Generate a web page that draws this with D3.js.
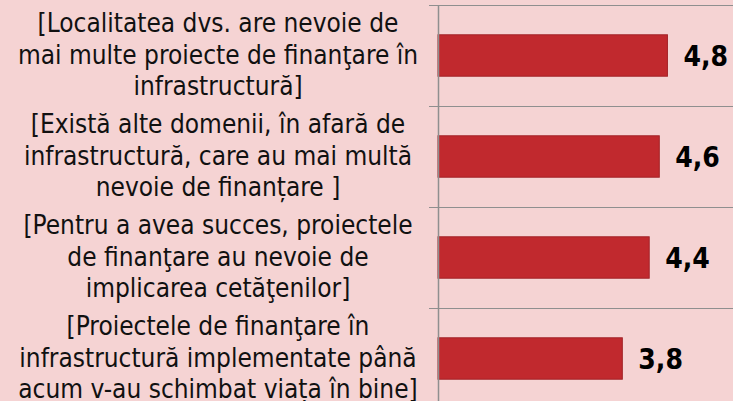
<!DOCTYPE html>
<html>
<head>
<meta charset="utf-8">
<script src="https://cdn.jsdelivr.net/npm/d3@7"></script>
<style>
  html, body { margin: 0; padding: 0; background: #f5d3d3; }
  svg { display: block; }
</style>
</head>
<body>
<svg width="733" height="401"></svg>
<script>
// categories (already wrapped the way the original shows them)
const categories = ["q1", "q2", "q3", "q4"];
const labelLines = [
    ["[Localitatea dvs. are nevoie de", "mai multe proiecte de finanţare în", "infrastructură]"],
    ["[Există alte domenii, în afară de", "infrastructură, care au mai multă", "nevoie de finanțare ]"],
    ["[Pentru a avea succes, proiectele", "de finanţare au nevoie de", "implicarea cetăţenilor]"],
    ["[Proiectele de finanţare în", "infrastructură implementate până", "acum v-au schimbat viața în bine]"]
];
const values = [4.78, 4.61, 4.40, 3.84];

const svg = d3.select("svg"),
    width = 733,
    height = 401;

const axisX = 438,
    topY = 5;

const y = d3.scaleBand()
    .domain(categories)
    .range([topY, topY + 404])
    .paddingInner(0.59)
    .paddingOuter(0.295);

const x = d3.scaleLinear()
    .domain([0, 6])
    .range([axisX, axisX + 288]);

const fmt = v => d3.format(".1f")(v).replace(".", ",");

// category separators
const step = y.step();
svg.append("g")
    .selectAll("line")
    .data(d3.range(categories.length + 1))
    .enter()
    .append("line")
    .attr("x1", axisX - 9)
    .attr("x2", width)
    .attr("y1", i => Math.round(topY + i * step) + 0.5)
    .attr("y2", i => Math.round(topY + i * step) + 0.5)
    .attr("stroke", "#8f8f8f")
    .attr("stroke-width", 1.2);

// bars
svg.append("g")
    .selectAll("rect")
    .data(values)
    .enter()
    .append("rect")
    .attr("x", x(0))
    .attr("y", (d, i) => y(categories[i]))
    .attr("width", d => x(d) - x(0))
    .attr("height", y.bandwidth())
    .attr("fill", "#c1292e")
    .attr("stroke", "#a32328")
    .attr("stroke-width", 1);

// vertical axis line
svg.append("line")
    .attr("x1", axisX + 0.5)
    .attr("x2", axisX + 0.5)
    .attr("y1", topY)
    .attr("y2", height)
    .attr("stroke", "#8f8f8f")
    .attr("stroke-width", 1.5);

// value labels
svg.append("g")
    .selectAll("text")
    .data(values)
    .enter()
    .append("text")
    .attr("x", d => x(d) + 16)
    .attr("y", (d, i) => y(categories[i]) + y.bandwidth() / 2 + 10)
    .attr("font-family", "DejaVu Sans Condensed")
    .attr("font-weight", "bold")
    .attr("font-size", 28)
    .attr("fill", "#000")
    .text(d => fmt(d));

// category labels
const lab = svg.append("g")
    .selectAll("text")
    .data(categories)
    .enter()
    .append("text")
    .attr("text-anchor", "middle")
    .attr("font-family", "DejaVu Sans Condensed")
    .attr("font-size", 26)
    .attr("fill", "#111");

lab.each(function(c, i) {
    const center = y(c) + y.bandwidth() / 2;
    d3.select(this).selectAll("tspan")
        .data(labelLines[i])
        .enter()
        .append("tspan")
        .attr("x", 218)
        .attr("y", (l, j) => center + 8 + (j - 1) * 31.5)
        .text(l => l);
});
</script>
</body>
</html>
